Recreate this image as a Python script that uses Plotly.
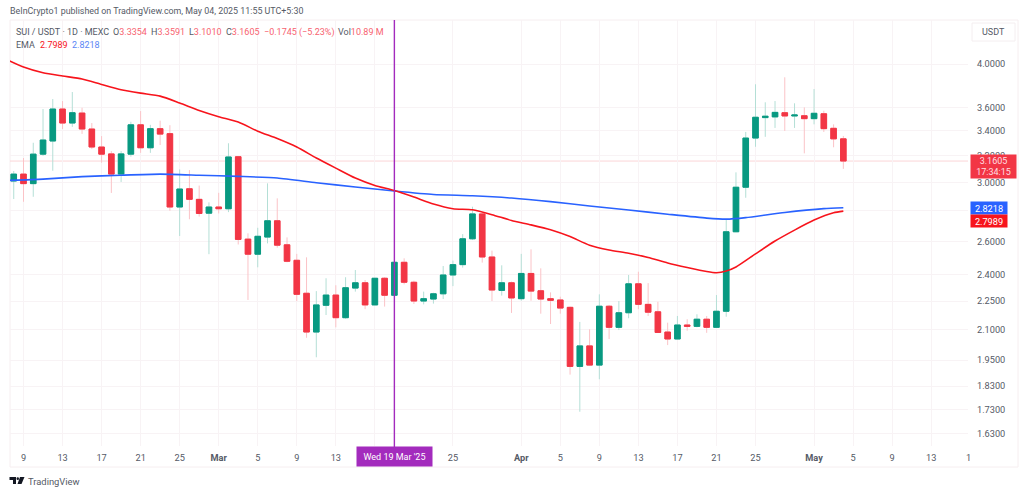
import pandas as pd
import plotly.graph_objects as go

START_DATE = "2025-02-08"
opens = [3.011,3.062,2.992,3.214,3.318,3.586,3.466,3.551,3.416,3.270,3.216,3.062,3.214,3.451,3.264,3.419,3.378,2.827,2.955,2.880,2.785,
         2.827,2.815,3.194,2.615,2.521,2.628,2.734,2.579,2.484,2.293,2.087,2.227,2.283,2.161,2.322,2.352,2.229,2.378,2.282,2.472,2.355,2.250,2.261,2.290,2.397,2.458,2.617,2.780,2.504,2.309,2.352,
         2.263,2.406,2.307,2.263,2.256,2.216,1.920,2.018,1.926,2.222,2.111,2.187,2.346,2.232,2.192,2.087,2.052,2.123,2.116,2.153,2.111,2.195,2.662,2.966,3.342,3.512,3.518,3.554,3.526,3.528,
         3.503,3.545,3.422,3.3354]
highs = [3.085,3.184,3.304,3.586,3.674,3.656,3.737,3.597,3.466,3.358,3.238,3.238,3.477,3.568,3.451,3.486,3.448,3.097,3.092,2.978,2.859,
         2.926,3.300,3.200,2.652,2.688,2.994,2.887,2.626,2.523,2.502,2.305,2.378,2.338,2.384,2.426,2.368,2.380,2.384,2.474,2.496,2.364,2.302,2.296,2.450,2.482,2.647,2.829,2.788,2.543,2.454,2.359,
         2.523,2.551,2.436,2.298,2.274,2.220,2.139,2.101,2.287,2.229,2.250,2.397,2.416,2.350,2.246,2.135,2.170,2.153,2.179,2.170,2.283,2.744,3.075,3.392,3.808,3.645,3.656,3.873,3.636,3.600,
         3.764,3.571,3.455,3.3591]
lows = [2.882,2.863,2.898,3.200,3.087,3.416,3.434,3.376,3.254,3.148,2.925,3.004,3.194,3.224,3.224,3.286,2.801,2.635,2.744,2.762,2.521,
        2.783,2.792,2.581,2.256,2.442,2.588,2.561,2.472,2.250,2.058,1.963,2.175,2.111,2.155,2.302,2.206,2.228,2.220,2.280,2.343,2.234,2.232,2.236,2.261,2.333,2.440,2.609,2.470,2.250,2.280,2.186,
        2.252,2.252,2.182,2.128,2.182,1.882,1.720,1.924,1.861,2.052,2.097,2.158,2.206,2.170,2.083,2.022,2.051,2.094,2.111,2.083,2.109,2.166,2.660,2.891,3.272,3.352,3.425,3.400,3.425,3.220,
        3.455,3.392,3.268,3.101]
closes = [3.062,2.992,3.214,3.326,3.586,3.466,3.554,3.416,3.270,3.214,3.062,3.216,3.451,3.264,3.419,3.374,2.827,2.953,2.880,2.783,2.827,
          2.815,3.192,2.613,2.521,2.633,2.734,2.577,2.478,2.287,2.087,2.229,2.283,2.161,2.324,2.352,2.229,2.378,2.282,2.472,2.355,2.250,2.263,2.290,2.397,2.458,2.617,2.780,2.504,2.311,2.352,2.267,
          2.406,2.305,2.261,2.254,2.212,1.920,2.018,1.926,2.222,2.111,2.187,2.346,2.232,2.190,2.085,2.052,2.123,2.116,2.153,2.111,2.195,2.662,2.966,3.342,3.515,3.524,3.557,3.526,3.534,3.503,
          3.549,3.419,3.3354,3.1605]

ema_red_dates = ["02-07","02-09","02-11","02-13","02-15","02-17","02-19","02-21","02-23","02-25","02-27","03-01","03-03","03-05","03-07","03-09","03-11","03-13","03-15","03-17","03-19","03-21","03-23","03-25","03-27","03-29","03-31","04-02","04-04","04-06","04-08","04-10","04-12","04-14","04-16","04-18","04-20","04-21","04-22","04-23","04-25","04-27","04-29","05-01","05-03","05-04"]
ema_red = [4.056,3.971,3.916,3.885,3.857,3.806,3.758,3.727,3.700,3.639,3.574,3.520,3.475,3.398,3.338,3.270,3.184,3.107,3.033,2.979,2.942,2.896,2.847,2.815,2.808,2.775,2.736,2.707,2.675,2.631,2.577,2.547,2.527,2.501,2.468,2.441,2.417,2.410,2.420,2.444,2.523,2.603,2.673,2.739,2.788,2.7989]
ema_blue_dates = ["02-07","02-11","02-15","02-19","02-23","02-27","03-03","03-07","03-11","03-15","03-19","03-23","03-27","03-31","04-04","04-08","04-12","04-16","04-20","04-22","04-24","04-28","05-02","05-04"]
ema_blue = [3.014,3.025,3.043,3.054,3.062,3.054,3.045,3.033,2.999,2.968,2.939,2.914,2.905,2.889,2.864,2.834,2.806,2.778,2.752,2.745,2.755,2.790,2.816,2.8218]

y_ticks = [4.0,3.6,3.4,3.2,3.0,2.8,2.6,2.4,2.25,2.1,1.95,1.83,1.73,1.63]
y_tick_labels = ["4.0000","3.6000","3.4000","3.2000","3.0000","","2.6000","2.4000","2.2500","2.1000","1.9500","1.8300","1.7300","1.6300"]
x_tick_dates = ["02-09","02-13","02-17","02-21","02-25","03-01","03-05","03-09","03-13","03-17","03-25","04-01","04-05","04-09","04-13","04-17","04-21","04-25","05-01","05-05","05-09","05-13"]
x_tick_labels = ["9","13","17","21","25","<b>Mar</b>","5","9","13","","25","<b>Apr</b>","5","9","13","17","21","25","<b>May</b>","5","9","13"]
CROSS_DATE = "2025-03-19"
LAST_PRICE = 3.1605

W, H = 1024, 491
def px(x): return x / W
def py(y): return 1 - y / H
def d(s): return pd.Timestamp("2025-" + s)

GREEN, RED = "#089981", "#f23645"
GREEN_W, RED_W = "#b4dfd6", "#fbc3c7"
PURPLE = "#a32bbd"
TXT = "#555a66"
FONT = "Roboto"

dates = pd.date_range(START_DATE, periods=len(opens), freq="D")
body_hi = [max(o, c) for o, c in zip(opens, closes)]
body_lo = [min(o, c) for o, c in zip(opens, closes)]

fig = go.Figure()
fig.add_trace(go.Candlestick(x=dates, open=opens, high=highs, low=lows, close=closes,
    increasing=dict(line=dict(color=GREEN_W, width=1), fillcolor=GREEN),
    decreasing=dict(line=dict(color=RED_W, width=1), fillcolor=RED), whiskerwidth=0, hoverinfo="skip"))
fig.add_trace(go.Candlestick(x=dates, open=opens, high=body_hi, low=body_lo, close=closes,
    increasing=dict(line=dict(color=GREEN, width=1), fillcolor=GREEN),
    decreasing=dict(line=dict(color=RED, width=1), fillcolor=RED), whiskerwidth=0, hoverinfo="skip"))
fig.add_trace(go.Scatter(x=[d(s) for s in ema_blue_dates], y=ema_blue, mode="lines",
    line=dict(color="#2962ff", width=1.6, shape="spline", smoothing=0.6), hoverinfo="skip"))
fig.add_trace(go.Scatter(x=[d(s) for s in ema_red_dates], y=ema_red, mode="lines",
    line=dict(color="#f7141c", width=1.6, shape="spline", smoothing=0.6), hoverinfo="skip"))

x0 = pd.Timestamp("2025-02-09") - pd.Timedelta(days=(23.5 - 10) / 9.76)
x1 = pd.Timestamp("2025-02-09") + pd.Timedelta(days=(968 - 23.5) / 9.76)

shapes = [
    dict(type="rect", xref="paper", yref="paper", x0=px(10), x1=px(1018), y0=py(467), y1=py(20),
         line=dict(color="#f6eef0", width=1), layer="below"),
    dict(type="line", xref="x", yref="y", x0=x0, x1=x1, y0=LAST_PRICE, y1=LAST_PRICE,
         line=dict(color="#fbd5d8", width=1), layer="below"),
    dict(type="line", xref="x", yref="paper", x0=CROSS_DATE, x1=CROSS_DATE, y0=py(447), y1=py(20),
         line=dict(color=PURPLE, width=1.4)),
    dict(type="rect", xref="paper", yref="paper", x0=px(972), x1=px(1015), y0=py(41), y1=py(23),
         line=dict(color="#f4eef0", width=1), fillcolor="white"),
    dict(type="path", xref="paper", yref="paper", line=dict(width=0), fillcolor="#131722",
         path="M %f %f L %f %f L %f %f L %f %f L %f %f L %f %f Z" % (px(9.5),py(477),px(16),py(477),px(16),py(484),px(13),py(484),px(13),py(480),px(9.5),py(480))),
    dict(type="circle", xref="paper", yref="paper", line=dict(width=0), fillcolor="#131722",
         x0=px(16.5), x1=px(19), y0=py(480), y1=py(477.3)),
    dict(type="path", xref="paper", yref="paper", line=dict(width=0), fillcolor="#131722",
         path="M %f %f L %f %f L %f %f L %f %f Z" % (px(20),py(477),px(24.5),py(477),px(21.5),py(484),px(17.5),py(484))),
]

def label(x, y, text, size=9, color=TXT, anchor="left"):
    return dict(xref="paper", yref="paper", x=px(x - 1), y=py(y), text=text, showarrow=False,
                xanchor=anchor, yanchor="middle", font=dict(family=FONT, size=size, color=color))

def price_box(ypos, text, color, height=12, width=36, size=9.2, fcolor="white", x=970):
    return dict(xref="paper", yref="paper", x=px(x), y=py(ypos), text=text, showarrow=False,
                xanchor="left", yanchor="middle", bgcolor=color, width=width, height=height, borderpad=0,
                align="center", font=dict(family=FONT, size=size, color=fcolor))

R = "#f7626f"
B = "#5b86f5"
def seg(x, head, value, y=32):
    return label(x, y, "%s<span style='color:%s'>%s</span>" % (head, R, value))

annotations = [
    label(9, 11, "BeInCrypto1 published on TradingView.com, May 04, 2025 11:55 UTC+5:30", size=8.9),
    label(15, 32, "SUI / USDT&nbsp;·&nbsp;1D&nbsp;·&nbsp;MEXC"),
    seg(112, "O", "3.3354"), seg(150, "H", "3.3591"), seg(188, "L", "3.1010"), seg(225, "C", "3.1605"),
    seg(263, "", "−0.1745 (−5.23%)"), seg(337, "Vol", "10.89 M"),
    label(15, 45, "EMA"),
    label(38.5, 45, "2.7989", color="#f7141c"),
    label(70.5, 45, "2.8218", color=B),
    label(994.5, 32, "USDT", anchor="center", size=9),
    label(27, 481, "TradingView", size=9.4),
    label(969, 457, "1", anchor="center", size=9.2),
    dict(xref="paper", yref="paper", x=px(394.5), y=py(456.5), text="Wed 19 Mar '25", showarrow=False,
         xanchor="center", yanchor="middle", bgcolor=PURPLE, width=75, height=19, borderpad=0,
         font=dict(family=FONT, size=9, color="white")),
    price_box(208, "2.8218", "#2962ff"),
    price_box(221, "2.7989", "#f7141c"),
    price_box(166.5, "3.1605<br>17:34:15", "#f23645", height=23, width=45, size=9, fcolor="#ffdfe2", x=969.5),
]

fig.update_layout(
    width=W, height=H, autosize=False, showlegend=False,
    margin=dict(l=0, r=0, t=0, b=0), paper_bgcolor="white", plot_bgcolor="white",
    font=dict(family=FONT), boxgap=0.18,
    shapes=shapes, annotations=annotations,
    xaxis=dict(domain=[px(10), px(968)], type="date", range=[x0, x1], rangeslider=dict(visible=False),
               tickmode="array", tickvals=[d(s) for s in x_tick_dates], ticktext=x_tick_labels,
               tickfont=dict(family=FONT, size=9.2, color=TXT), ticklen=0, showline=False, zeroline=False,
               gridcolor="#f8f3f5", gridwidth=1, ticklabelstandoff=5),
    yaxis=dict(domain=[py(446), py(20)], type="log", range=[0.1994, 0.64844], side="right",
               anchor="x", tickmode="array", tickvals=y_ticks, ticktext=y_tick_labels,
               tickfont=dict(family=FONT, size=9.2, color=TXT), ticklen=0, showline=False, zeroline=False,
               gridcolor="#f8f3f5", gridwidth=1, ticklabelstandoff=8),
)

fig.write_html("out.html", config=dict(displayModeBar=False),
               post_script="document.body.style.margin='0';document.body.style.overflow='hidden';")
